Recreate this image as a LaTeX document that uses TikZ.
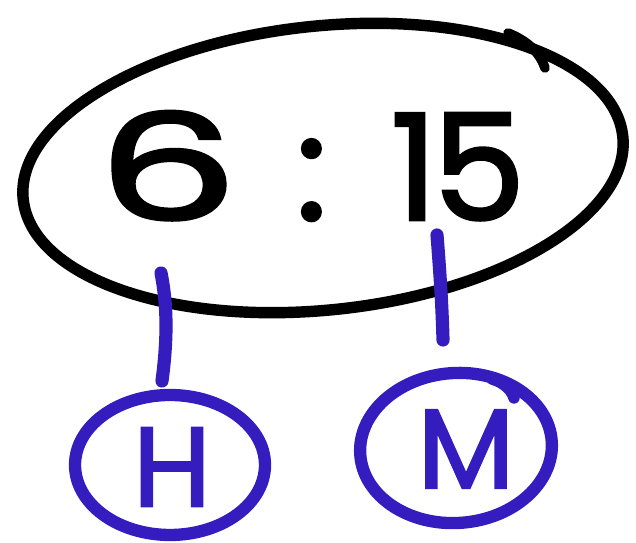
\documentclass[tikz,border=0pt]{standalone}
\usepackage{fontspec}
\setmainfont{Poppins}
\newfontfamily\thickfont[FakeBold=2]{Poppins}
\usetikzlibrary{shapes.geometric}
\definecolor{ink}{RGB}{52,28,190}
\tikzset{
  bigoval/.style={draw=black, line width=6.5pt, ellipse, inner sep=0pt},
  smalloval/.style={draw=ink, line width=7pt, ellipse, inner sep=0pt},
  tick/.style={draw=ink, line width=7.5pt, line cap=round},
  digits/.style={font=\thickfont\fontsize{84pt}{84pt}\selectfont, text=black, inner sep=0pt},
  letter/.style={font=\thickfont\fontsize{64pt}{64pt}\selectfont, text=ink, inner sep=0pt}
}
\begin{document}
\begin{tikzpicture}[x=0.02cm, y=0.02cm]
\useasboundingbox (0,0) rectangle (636,543);
% main oval
\node[bigoval, minimum width=12.06cm, minimum height=5.68cm, rotate=6] (clock) at (323,375) {};
\draw[black, line width=5.5pt, line cap=round] (508,510) .. controls (528,502) and (540,490) .. (545,475);
% time
\node[digits, anchor=base west] (time) at (97,323) {\scalebox{1.5}[1]{6}\hspace{33pt}:\hspace{36pt}1\kern-3pt5};
% hour and minute circles
\node[smalloval, minimum width=3.8cm, minimum height=2.8cm] (h) at (170,78) {};
\node[letter] (hl) at (172,76) {H};
\node[smalloval, minimum width=3.84cm, minimum height=3.0cm, rotate=4] (m) at (456,95) {};
\node[letter] (ml) at (466,94) {M};
\draw[ink, line width=6.5pt, line cap=round] (492,164) .. controls (505,160) and (512,152) .. (514,145);
% ticks
\coordinate (ht) at (161,270);
\coordinate (hb) at (162,162);
\coordinate (mt) at (437,308);
\coordinate (mb) at (443,203);
\draw[tick] (ht) .. controls (168,235) and (167,200) .. (hb);
\draw[tick] (mt) .. controls (440,270) and (442,240) .. (mb);
\end{tikzpicture}
\end{document}
